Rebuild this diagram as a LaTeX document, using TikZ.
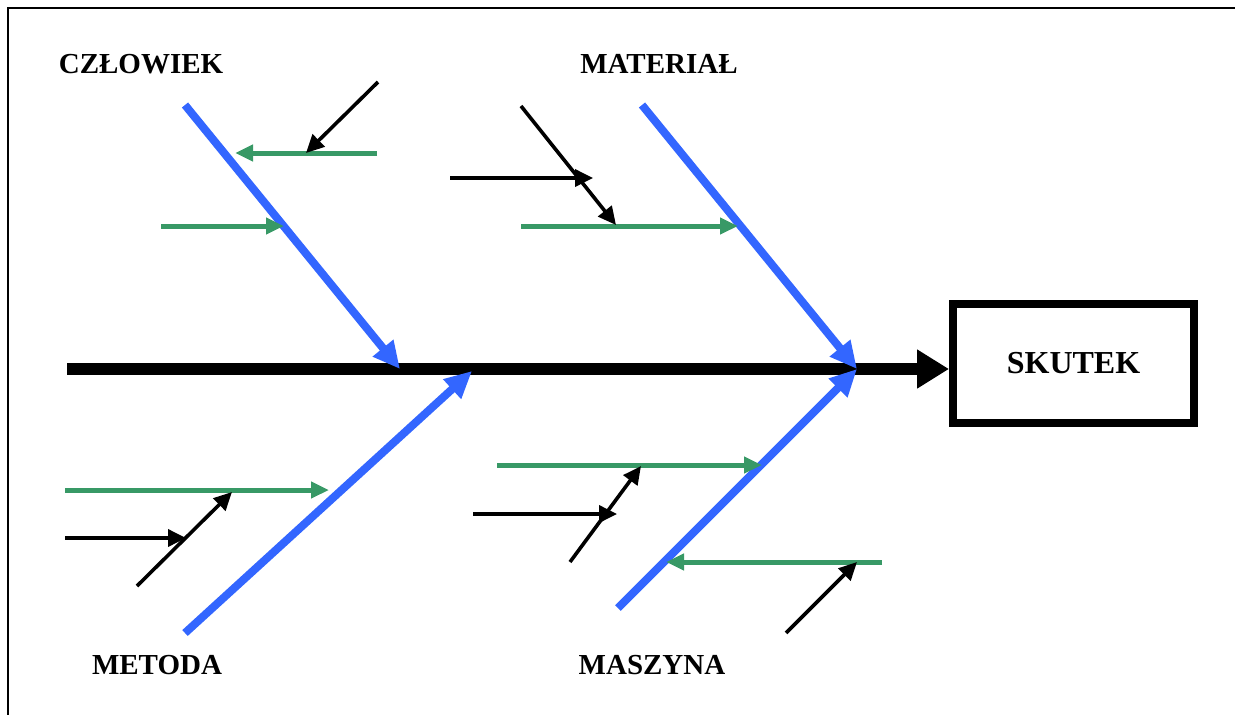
\documentclass[tikz,border=0pt]{standalone}
\usepackage{fontspec}
\setmainfont{Liberation Serif}
\usetikzlibrary{arrows.meta}
\definecolor{boneblue}{RGB}{51,102,255}
\definecolor{subgreen}{RGB}{56,153,102}
\begin{document}
\begin{tikzpicture}[x=1pt,y=-1pt,
  frameline/.style={line width=2.8pt},
  spine/.style={line width=12pt,-{Triangle[length=32pt,width=37pt]}},
  bone/.style={boneblue,line width=8pt,-{Triangle[length=27pt,width=25pt]}},
  cause/.style={subgreen,line width=5pt,-{Triangle[length=18pt,width=16pt]}},
  subcause/.style={black,line width=3.6pt,-{Triangle[length=18pt,width=17pt]}},
  label/.style={font=\fontsize{29}{34}\selectfont\bfseries,inner sep=0pt},
  effectbox/.style={draw,line width=8pt,minimum width=241pt,minimum height=119pt,font=\fontsize{32}{38}\selectfont\bfseries}]
\useasboundingbox (0,0) rectangle (1235,715);
% frame
\coordinate (fb) at (8,715);
\coordinate (ftl) at (8,8);
\coordinate (ftr) at (1235,8);
\draw[frameline] (fb) -- (ftl) -- (ftr);
% effect
\node[effectbox] (skutek) at (1073.5,363.5) {SKUTEK};
\coordinate (sp0) at (67,369);
\draw[spine] (sp0) -- (skutek.west |- sp0);
% labels
\node[label] (czl) at (141,64) {CZŁOWIEK};
\node[label] (mat) at (659,64) {MATERIAŁ};
\node[label] (met) at (157,665) {METODA};
\node[label] (mas) at (652,665) {MASZYNA};
% bones
\coordinate (b1s) at (185,105); \coordinate (b1e) at (400,369);
\coordinate (b2s) at (185,633); \coordinate (b2e) at (472,371);
\coordinate (b3s) at (642,105); \coordinate (b3e) at (857,369);
\coordinate (b4s) at (618,608); \coordinate (b4e) at (857,369);
\draw[bone] (b1s) -- (b1e);
\draw[bone] (b2s) -- (b2e);
\draw[bone] (b3s) -- (b3e);
\draw[bone] (b4s) -- (b4e);
% green causes
\coordinate (g1s) at (377,153); \coordinate (g1e) at (235,153);
\coordinate (g2s) at (161,226); \coordinate (g2e) at (284,226);
\coordinate (g3s) at (521,226); \coordinate (g3e) at (738,226);
\coordinate (g4s) at (65,490);  \coordinate (g4e) at (329,490);
\coordinate (g5s) at (497,465); \coordinate (g5e) at (762,465);
\coordinate (g6s) at (882,562); \coordinate (g6e) at (666,562);
\foreach \i in {1,...,6} {\draw[cause] (g\i s) -- (g\i e);}
% black sub-causes
\coordinate (k1s) at (378,82);  \coordinate (k1e) at (306,153);
\coordinate (k2s) at (521,106); \coordinate (k2e) at (616,225);
\coordinate (k3s) at (450,178); \coordinate (k3e) at (593,178);
\coordinate (k4s) at (65,538);  \coordinate (k4e) at (186,538);
\coordinate (k5s) at (137,586); \coordinate (k5e) at (232,492);
\coordinate (k6s) at (473,514); \coordinate (k6e) at (617,514);
\coordinate (k7s) at (570,562); \coordinate (k7e) at (641,466);
\coordinate (k8s) at (786,633); \coordinate (k8e) at (857,562);
\foreach \i in {1,...,8} {\draw[subcause] (k\i s) -- (k\i e);}
\end{tikzpicture}
\end{document}
